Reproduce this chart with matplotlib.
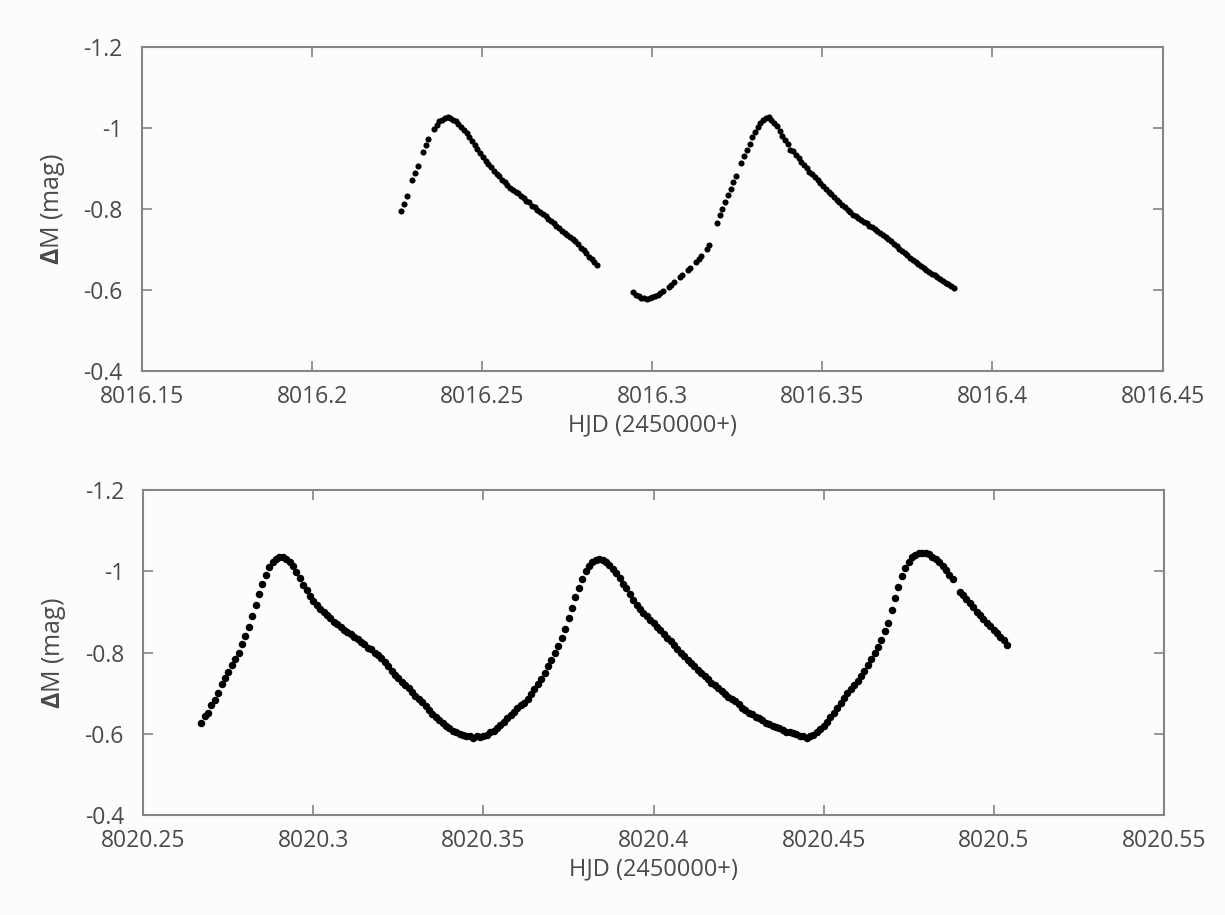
import numpy as np
import matplotlib.pyplot as plt

plt.rcParams['font.family'] = ['Open Sans', 'DejaVu Sans']
plt.rcParams['mathtext.fontset'] = 'custom'
plt.rcParams['mathtext.bf'] = 'Open Sans:bold'

# ---- night 1 (HJD 2458016) ----
hjd1 = np.array([
    8016.2262, 8016.2270, 8016.2278,
    8016.2294, 8016.2302, 8016.2310,
    8016.2326, 8016.2334, 8016.2342,
    8016.2358, 8016.2366, 8016.2374, 8016.2382, 8016.2390, 8016.2398, 8016.2406,
    8016.2414, 8016.2422, 8016.2430, 8016.2438, 8016.2446, 8016.2454, 8016.2462,
    8016.2470, 8016.2478, 8016.2486, 8016.2494, 8016.2502, 8016.2510, 8016.2518,
    8016.2526, 8016.2534, 8016.2542, 8016.2550, 8016.2558, 8016.2566, 8016.2574,
    8016.2582, 8016.2590, 8016.2598, 8016.2606, 8016.2614, 8016.2622, 8016.2630,
    8016.2638, 8016.2646, 8016.2654, 8016.2662, 8016.2670, 8016.2678, 8016.2686,
    8016.2694, 8016.2702, 8016.2710, 8016.2718, 8016.2726, 8016.2734, 8016.2742,
    8016.2750, 8016.2758, 8016.2766, 8016.2774, 8016.2782, 8016.2790, 8016.2798,
    8016.2806, 8016.2814, 8016.2822, 8016.2830, 8016.2838,
    8016.2944, 8016.2952, 8016.2960, 8016.2968, 8016.2976, 8016.2984, 8016.2992,
    8016.3000, 8016.3008, 8016.3016, 8016.3024, 8016.3032,
    8016.3048, 8016.3056, 8016.3064,
    8016.3080, 8016.3088,
    8016.3104, 8016.3112,
    8016.3128, 8016.3136, 8016.3144,
    8016.3160, 8016.3166,
    8016.3190, 8016.3198, 8016.3206, 8016.3214, 8016.3222, 8016.3230, 8016.3238,
    8016.3246,
    8016.3262, 8016.3270, 8016.3278, 8016.3286, 8016.3294, 8016.3302, 8016.3310,
    8016.3318, 8016.3326, 8016.3334, 8016.3342, 8016.3350, 8016.3358, 8016.3366,
    8016.3374, 8016.3382, 8016.3390, 8016.3398, 8016.3406, 8016.3414, 8016.3422,
    8016.3430, 8016.3438, 8016.3446, 8016.3454, 8016.3462, 8016.3470, 8016.3478,
    8016.3486, 8016.3494, 8016.3502, 8016.3510, 8016.3518, 8016.3526, 8016.3534,
    8016.3542, 8016.3550, 8016.3558, 8016.3566, 8016.3574, 8016.3582, 8016.3590,
    8016.3598, 8016.3606, 8016.3614, 8016.3622, 8016.3630, 8016.3638, 8016.3646,
    8016.3654, 8016.3662, 8016.3670, 8016.3678, 8016.3686, 8016.3694, 8016.3702,
    8016.3710, 8016.3718, 8016.3726, 8016.3734, 8016.3742, 8016.3750, 8016.3758,
    8016.3766, 8016.3774, 8016.3782, 8016.3790, 8016.3798, 8016.3806, 8016.3814,
    8016.3822, 8016.3830, 8016.3838, 8016.3846, 8016.3854, 8016.3862, 8016.3870,
    8016.3878, 8016.3886,
])
dm1 = np.array([
    -0.795, -0.812, -0.832,
    -0.870, -0.889, -0.905,
    -0.940, -0.957, -0.972,
    -0.998, -1.008, -1.016, -1.020, -1.024, -1.026, -1.024,
    -1.020, -1.016, -1.010, -1.002, -0.994, -0.986, -0.978,
    -0.968, -0.958, -0.948, -0.938, -0.927, -0.918, -0.910,
    -0.902, -0.894, -0.886, -0.880, -0.872, -0.866, -0.860,
    -0.852, -0.846, -0.842, -0.838, -0.832, -0.826, -0.820,
    -0.816, -0.808, -0.804, -0.798, -0.792, -0.788, -0.782,
    -0.776, -0.770, -0.764, -0.758, -0.752, -0.746, -0.740,
    -0.736, -0.730, -0.726, -0.720, -0.714, -0.704, -0.698,
    -0.690, -0.682, -0.676, -0.668, -0.662,
    -0.596, -0.588, -0.584, -0.581, -0.579, -0.578, -0.580,
    -0.582, -0.585, -0.588, -0.593, -0.598,
    -0.607, -0.613, -0.620,
    -0.632, -0.638,
    -0.648, -0.654,
    -0.668, -0.676, -0.684,
    -0.702, -0.710,
    -0.765, -0.784, -0.800, -0.818, -0.834, -0.850, -0.866,
    -0.882,
    -0.914, -0.930, -0.946, -0.960, -0.976, -0.990, -1.002,
    -1.012, -1.020, -1.025, -1.026, -1.020, -1.012, -1.004,
    -0.992, -0.980, -0.970, -0.960, -0.946, -0.942, -0.932,
    -0.926, -0.916, -0.908, -0.900, -0.892, -0.886, -0.878,
    -0.870, -0.864, -0.856, -0.850, -0.842, -0.836, -0.830,
    -0.822, -0.816, -0.810, -0.804, -0.797, -0.792, -0.786,
    -0.782, -0.778, -0.772, -0.768, -0.764, -0.758, -0.754,
    -0.750, -0.746, -0.740, -0.736, -0.730, -0.726, -0.720,
    -0.714, -0.708, -0.702, -0.696, -0.690, -0.686, -0.680,
    -0.674, -0.670, -0.664, -0.660, -0.654, -0.650, -0.644,
    -0.640, -0.636, -0.632, -0.626, -0.622, -0.618, -0.614,
    -0.610, -0.604,
])

# ---- night 2 (HJD 2458020) ----
hjd2 = 8020.0 + np.array([
    0.267, 0.268, 0.269, 0.270, 0.271, 0.272, 0.273, 0.274, 0.275, 0.276,
    0.277, 0.278, 0.279, 0.280, 0.281, 0.282, 0.283, 0.284, 0.285, 0.286,
    0.287, 0.288, 0.289, 0.290, 0.291, 0.292, 0.293, 0.294, 0.295, 0.296,
    0.297, 0.298, 0.299, 0.300, 0.301, 0.302, 0.303, 0.304, 0.305, 0.306,
    0.307, 0.308, 0.309, 0.310, 0.311, 0.312, 0.313, 0.314, 0.315, 0.316,
    0.317, 0.318, 0.319, 0.320, 0.321, 0.322, 0.323, 0.324, 0.325, 0.326,
    0.327, 0.328, 0.329, 0.330, 0.331, 0.332, 0.333, 0.334, 0.335, 0.336,
    0.337, 0.338, 0.339, 0.340, 0.341, 0.342, 0.343, 0.344, 0.345, 0.346,
    0.347, 0.348, 0.349, 0.350, 0.351, 0.352, 0.353, 0.354, 0.355, 0.356,
    0.357, 0.358, 0.359, 0.360, 0.361, 0.362, 0.363, 0.364, 0.365, 0.366,
    0.367, 0.368, 0.369, 0.370, 0.371, 0.372, 0.373, 0.374, 0.375, 0.376,
    0.377, 0.378, 0.379, 0.380, 0.381, 0.382, 0.383, 0.384, 0.385, 0.386,
    0.387, 0.388, 0.389, 0.390, 0.391, 0.392, 0.393, 0.394, 0.395, 0.396,
    0.397, 0.398, 0.399, 0.400, 0.401, 0.402, 0.403, 0.404, 0.405, 0.406,
    0.407, 0.408, 0.409, 0.410, 0.411, 0.412, 0.413, 0.414, 0.415, 0.416,
    0.417, 0.418, 0.419, 0.420, 0.421, 0.422, 0.423, 0.424, 0.425, 0.426,
    0.427, 0.428, 0.429, 0.430, 0.431, 0.432, 0.433, 0.434, 0.435, 0.436,
    0.437, 0.438, 0.439, 0.440, 0.441, 0.442, 0.443, 0.444, 0.445, 0.446,
    0.447, 0.448, 0.449, 0.450, 0.451, 0.452, 0.453, 0.454, 0.455, 0.456,
    0.457, 0.458, 0.459, 0.460, 0.461, 0.462, 0.463, 0.464, 0.465, 0.466,
    0.467, 0.468, 0.469, 0.470, 0.471, 0.472, 0.473, 0.474, 0.475, 0.476,
    0.477, 0.478, 0.479, 0.480, 0.481, 0.482, 0.483, 0.484, 0.485, 0.486,
    0.487, 0.488, 0.490, 0.491, 0.492, 0.493, 0.494, 0.495, 0.496, 0.497,
    0.498, 0.499, 0.500, 0.501, 0.502, 0.503, 0.504,
])
dm2 = np.array([
    -0.628, -0.645, -0.652, -0.672, -0.684, -0.700, -0.722, -0.738, -0.752, -0.770,
    -0.784, -0.800, -0.822, -0.842, -0.864, -0.890, -0.918, -0.944, -0.968, -0.990,
    -1.010, -1.022, -1.030, -1.034, -1.036, -1.030, -1.022, -1.012, -0.998, -0.984,
    -0.966, -0.954, -0.940, -0.928, -0.918, -0.908, -0.900, -0.892, -0.886, -0.876,
    -0.870, -0.862, -0.856, -0.850, -0.846, -0.838, -0.834, -0.826, -0.820, -0.812,
    -0.808, -0.800, -0.794, -0.786, -0.778, -0.768, -0.756, -0.746, -0.738, -0.728,
    -0.720, -0.712, -0.704, -0.694, -0.686, -0.678, -0.668, -0.660, -0.650, -0.642,
    -0.634, -0.626, -0.620, -0.614, -0.608, -0.604, -0.600, -0.598, -0.594, -0.596,
    -0.590, -0.594, -0.592, -0.596, -0.598, -0.604, -0.608, -0.614, -0.622, -0.630,
    -0.638, -0.646, -0.654, -0.664, -0.670, -0.676, -0.686, -0.698, -0.710, -0.722,
    -0.734, -0.750, -0.766, -0.782, -0.798, -0.816, -0.836, -0.858, -0.884, -0.910,
    -0.936, -0.960, -0.982, -1.000, -1.014, -1.022, -1.028, -1.030, -1.028, -1.024,
    -1.016, -1.006, -0.996, -0.984, -0.970, -0.958, -0.944, -0.930, -0.918, -0.908,
    -0.898, -0.890, -0.880, -0.872, -0.864, -0.856, -0.846, -0.836, -0.828, -0.818,
    -0.810, -0.800, -0.792, -0.782, -0.774, -0.766, -0.758, -0.750, -0.742, -0.734,
    -0.726, -0.720, -0.712, -0.706, -0.698, -0.692, -0.686, -0.680, -0.674, -0.664,
    -0.658, -0.652, -0.648, -0.642, -0.638, -0.634, -0.628, -0.624, -0.620, -0.616,
    -0.614, -0.610, -0.606, -0.604, -0.602, -0.600, -0.596, -0.594, -0.590, -0.594,
    -0.598, -0.604, -0.612, -0.620, -0.630, -0.642, -0.652, -0.664, -0.676, -0.688,
    -0.700, -0.710, -0.720, -0.730, -0.742, -0.756, -0.770, -0.784, -0.800, -0.814,
    -0.832, -0.854, -0.872, -0.906, -0.934, -0.962, -0.988, -1.008, -1.024, -1.034,
    -1.040, -1.044, -1.046, -1.046, -1.042, -1.036, -1.030, -1.022, -1.012, -1.002,
    -0.992, -0.980, -0.950, -0.942, -0.932, -0.922, -0.912, -0.900, -0.892, -0.882,
    -0.874, -0.866, -0.856, -0.848, -0.838, -0.830, -0.818,
])

yticks = [-1.2, -1.0, -0.8, -0.6, -0.4]
ytick_labels = ['-1.2', '-1', '-0.8', '-0.6', '-0.4']
xticks1 = [8016.15, 8016.2, 8016.25, 8016.3, 8016.35, 8016.4, 8016.45]
xtick_labels1 = ['8016.15', '8016.2', '8016.25', '8016.3', '8016.35', '8016.4', '8016.45']
xticks2 = [8020.25, 8020.3, 8020.35, 8020.4, 8020.45, 8020.5, 8020.55]
xtick_labels2 = ['8020.25', '8020.3', '8020.35', '8020.4', '8020.45', '8020.5', '8020.55']

fig = plt.figure(figsize=(12.25, 9.15), dpi=100)
fig.patch.set_facecolor('#fdfcfa')
ax1 = fig.add_axes([0.116, 0.5945, 0.833, 0.3545])
ax2 = fig.add_axes([0.117, 0.109, 0.833, 0.3555])

spine_col = '#858585'
text_col = '#4a4a4a'

for ax, x, y, xt, xtl, ms in [(ax1, hjd1, dm1, xticks1, xtick_labels1, 4.4),
                             (ax2, hjd2, dm2, xticks2, xtick_labels2, 5.4)]:
    ax.set_facecolor('#fdfcfa')
    ax.plot(x, y, 'o', color='black', markersize=ms, markeredgewidth=0,
            linestyle='none')
    ax.set_xlim(xt[0], xt[-1])
    ax.set_ylim(-0.4, -1.2)
    ax.set_xticks(xt)
    ax.set_xticklabels(xtl)
    ax.set_yticks(yticks)
    ax.set_yticklabels(ytick_labels)
    ax.tick_params(direction='in', length=7, width=1.2, color=spine_col,
                   labelsize=16.5, labelcolor=text_col, top=True, right=True)
    ax.tick_params(axis='x', pad=10)
    ax.tick_params(axis='y', pad=14)
    for s in ax.spines.values():
        s.set_color(spine_col)
        s.set_linewidth(1.5)
    ax.set_xlabel('HJD (2450000+)', fontsize=17, color=text_col, labelpad=3)
    ax.set_ylabel(r'$\mathbf{\Delta}$M (mag)', fontsize=18, color=text_col,
                  labelpad=12)

fig.savefig('out.png', dpi=100, facecolor=fig.get_facecolor())
